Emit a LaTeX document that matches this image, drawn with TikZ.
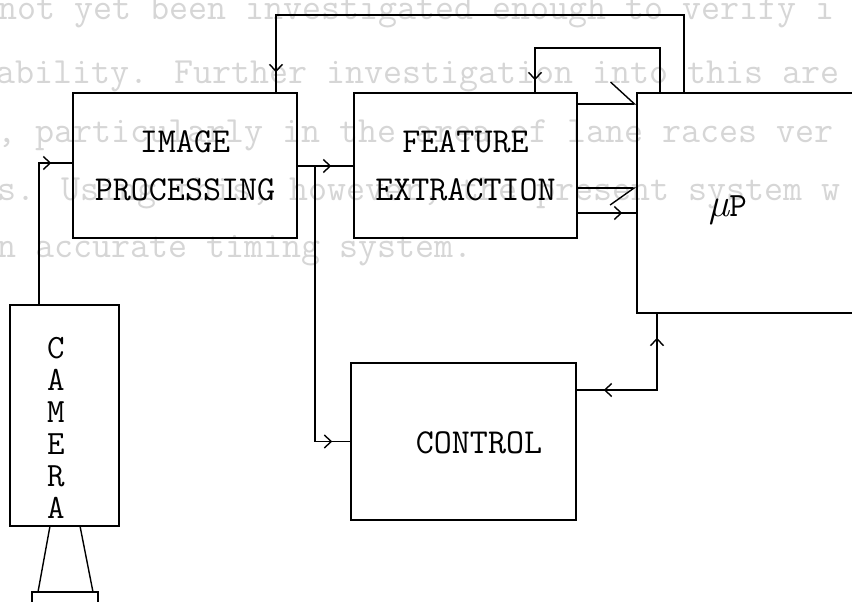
\documentclass[tikz,border=0pt]{standalone}
\usepackage{fontspec}
\usetikzlibrary{arrows.meta,decorations.markings,calc}
\tikzset{>={Straight Barb[length=7pt,width=13pt]}}
\begin{document}
\begin{tikzpicture}[x=1pt,y=-1pt,
  line width=1.4pt,
  box/.style={draw, rectangle, inner sep=0pt, line width=1.4pt},
  lbl/.style={font=\fontsize{35}{48}\selectfont\ttfamily, align=center, inner sep=0pt},
  bgtext/.style={font=\fontsize{36.9}{58}\selectfont\ttfamily, text=black!16, anchor=base west, inner sep=0pt},
  marr/.style={postaction={decorate,decoration={markings,mark=at position #1 with {\arrow{>}}}}}
]
\useasboundingbox (0,0) rectangle (852,602);
\fill[white] (0,0) rectangle (852,602);

% faint show-through text from the page behind
\node[bgtext] (bg1) at (-2,20) {not yet been investigated enough to verify i};
\node[bgtext] (bg2) at (-4,84) {ability. Further investigation into this are};
\node[bgtext] (bg3) at (-3,142) {, particularly in the area of lane races ver};
\node[bgtext] (bg4) at (-3,200) {s. Using this, however, the present system w};
\node[bgtext] (bg5) at (-3,257) {n accurate timing system.};

% boxes
\node[box, lbl, minimum width=224pt, minimum height=145pt] (img) at (185,165.5) {IMAGE\\PROCESSING};
\node[box, lbl, minimum width=223pt, minimum height=145pt] (feat) at (465.5,165.5) {FEATURE\\EXTRACTION};
\node[box, minimum width=221pt, minimum height=220pt] (mu) at (747.5,203) {};
\node[lbl, font=\fontsize{34}{40}\selectfont\ttfamily] (mulbl) at (728,210) {{\rmfamily\itshape\fontsize{40}{40}\selectfont µ}P};
\node[box, minimum width=225pt, minimum height=157pt] (ctrl) at (463.5,441.5) {};
\node[lbl] (ctrllbl) at (479,443) {CONTROL};
\node[box, minimum width=109pt, minimum height=221pt] (cam) at (64.5,415.5) {};
\node[lbl, font=\fontsize{34}{32}\selectfont\ttfamily] (camlbl) at (56,428) {C\\A\\M\\E\\R\\A};

% lens
\draw (50,526) -- (38,592) (80,526) -- (93,592);
\draw (32,606) -- (32,592) -- (98,592) -- (98,606);

% connectors
\coordinate (k1) at (39,163);
\draw[marr=-21pt] (cam.north -| k1) |- (img.west |- k1);

\coordinate (k2) at (315,166);
\draw[marr=-22pt] (img.east |- k2) -- (feat.west |- k2);
\draw[marr=-18pt] (k2) |- (ctrl.west);

\coordinate (t1) at (684,15);
\coordinate (t2) at (276,15);
\draw[marr=-20pt] (mu.north -| t1) -- (t1) -- (t2) -- (img.north -| t2);

\coordinate (t3) at (660,48);
\coordinate (t4) at (535,48);
\draw[marr=-12pt] (mu.north -| t3) -- (t3) -- (t4) -- (feat.north -| t4);

\coordinate (h1) at (0,104);
\coordinate (h2) at (0,188);
\coordinate (h3) at (0,213);
\draw[-{Straight Barb[left,length=24pt,width=44pt]}] (feat.east |- h1) -- (mu.west |- h1);
\draw[-{Straight Barb[right,length=24pt,width=34pt]}] (feat.east |- h2) -- (mu.west |- h2);
\draw[marr=-14pt] (feat.east |- h3) -- (mu.west |- h3);

\coordinate (k5) at (657,390);
\draw[postaction={decorate,decoration={markings,
   mark=at position 24pt with {\arrowreversed{>}},
   mark=at position -27pt with {\arrow{>}}}}]
   (mu.south -| k5) |- (ctrl.east |- k5);
\end{tikzpicture}
\end{document}
